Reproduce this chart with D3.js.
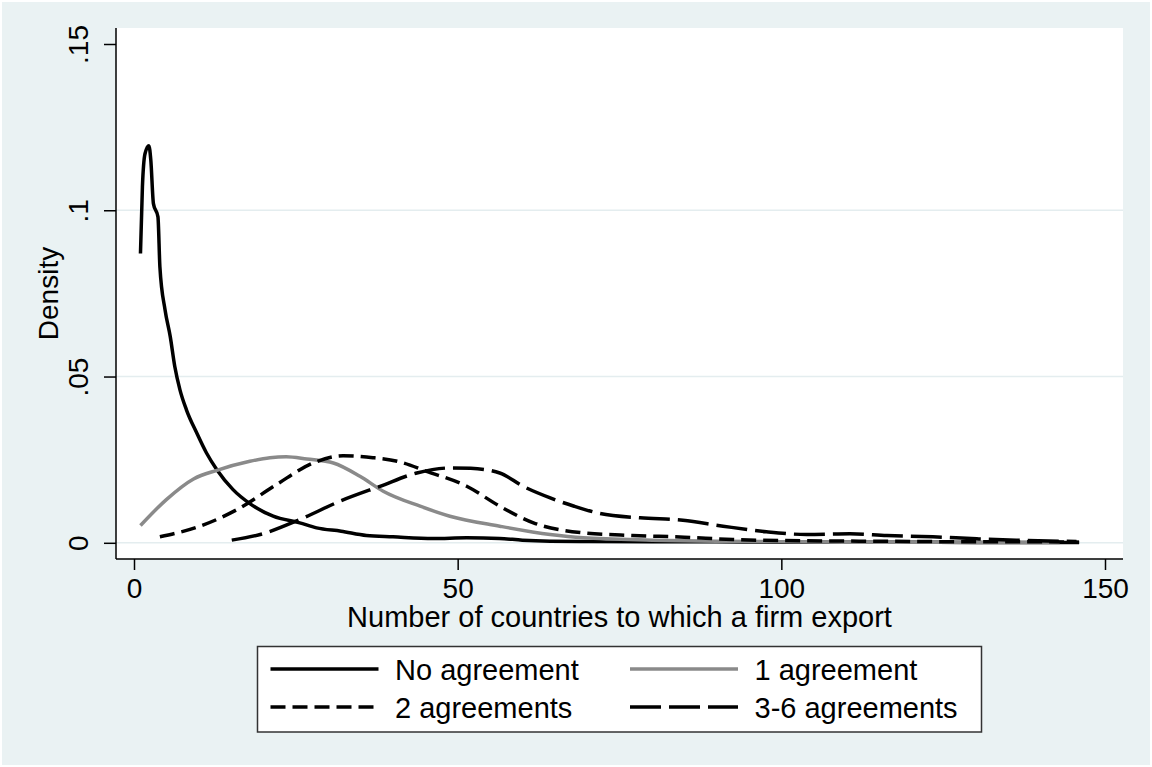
<!DOCTYPE html>
<html>
<head>
<meta charset="utf-8">
<script src="https://cdn.jsdelivr.net/npm/d3@7"></script>
<style>
  body { margin: 0; background: #ffffff; }
  text { font-family: "Liberation Sans", Arial, sans-serif; fill: #000; }
</style>
</head>
<body>
<svg id="chart" width="1152" height="767"></svg>
<script>
// Kernel density estimates
const noAgreementX = [1.0, 1.3, 1.7, 2.3, 2.6, 3.0, 3.7, 4.0, 4.8, 5.6, 6.3, 7.1, 8.1, 9.7, 11.2, 12.8, 15.3, 17.9, 21.5, 25.6, 28.2, 32, 35.9, 40, 46.2, 51.4, 56.5, 60, 64.3, 70, 80, 90, 100, 110, 120, 130, 140, 146];
const noAgreementY = [0.087, 0.107, 0.117, 0.1194, 0.115, 0.102, 0.098, 0.083, 0.070, 0.062, 0.053, 0.046, 0.040, 0.033, 0.027, 0.022, 0.016, 0.0118, 0.008, 0.006, 0.0045, 0.0035, 0.0022, 0.0018, 0.0013, 0.0015, 0.0013, 0.0008, 0.0005, 0.0004, 0.0003, 0.0003, 0.0002, 0.0002, 0.0002, 0.0001, 0.0001, 0.0001];

const oneAgreementX = [1.0, 5.0, 9.2, 12.8, 17.9, 21, 23.5, 26.7, 30.8, 34.9, 38.5, 44.2, 48.8, 56.5, 64.3, 69.4, 80, 90, 100, 110, 120, 130, 143];
const oneAgreementY = [0.0052, 0.013, 0.0192, 0.0218, 0.0245, 0.0256, 0.0259, 0.0252, 0.024, 0.020, 0.0155, 0.011, 0.008, 0.005, 0.0025, 0.0015, 0.0008, 0.0005, 0.0003, 0.0002, 0.0002, 0.0001, 0.0001];

const twoAgreementsX = [4.0, 10.2, 16.4, 22.0, 27.7, 32.3, 36.9, 41.1, 45.2, 51.4, 56.5, 61.7, 69.4, 77, 85, 92.5, 103, 112, 120, 130, 140, 146];
const twoAgreementsY = [0.0018, 0.005, 0.0105, 0.0175, 0.024, 0.0262, 0.0256, 0.0243, 0.0215, 0.017, 0.011, 0.006, 0.003, 0.0022, 0.0017, 0.001, 0.0006, 0.0005, 0.0004, 0.0003, 0.0003, 0.0002];

const threeSixX = [15.1, 19.5, 25.6, 31.8, 38.0, 43.7, 48.8, 52, 56.5, 60.1, 64.3, 68, 72, 78.2, 84.8, 91, 97.7, 103.9, 110.6, 116.3, 123.4, 130.2, 136.3, 145.6];
const threeSixY = [0.0008, 0.0025, 0.007, 0.0125, 0.017, 0.021, 0.0225, 0.0224, 0.021, 0.017, 0.0135, 0.011, 0.0088, 0.0075, 0.0068, 0.005, 0.0033, 0.0025, 0.0027, 0.0022, 0.0018, 0.0012, 0.0008, 0.0004];

const xTicks = [0, 50, 100, 150];
const yTicks = [0, 0.05, 0.1, 0.15];
const yTickLabels = ["0", ".05", ".1", ".15"];

const seriesNames = ["No agreement", "1 agreement", "2 agreements", "3-6 agreements"];

const svg = d3.select("#chart");
const width = +svg.attr("width");
const height = +svg.attr("height");

// Plot region box
const plot = { left: 116, right: 1123, top: 28, bottom: 559 };
const fontSize = 29;

// Background (graph region)
svg.append("rect")
    .attr("x", 2).attr("y", 2)
    .attr("width", width - 4).attr("height", height - 4)
    .attr("fill", "#eaf2f3");

svg.append("rect")
    .attr("x", plot.left).attr("y", plot.top)
    .attr("width", plot.right - plot.left).attr("height", plot.bottom - plot.top)
    .attr("fill", "#ffffff");

// Scales
const x = d3.scaleLinear().domain([0, 150]).range([134, 1105]);
const y = d3.scaleLinear().domain([0, 0.15]).range([542.8, 44]);

// Gridlines (not at the top tick)
svg.append("g")
    .selectAll("line")
    .data(yTicks.filter(t => t < 0.15))
    .enter().append("line")
    .attr("x1", plot.left).attr("x2", plot.right)
    .attr("y1", d => y(d)).attr("y2", d => y(d))
    .attr("stroke", "#e4edef")
    .attr("stroke-width", 1.5);

// Series
const series = [
    { name: seriesNames[0], xs: noAgreementX, ys: noAgreementY, color: "#000", dash: null },
    { name: seriesNames[1], xs: oneAgreementX, ys: oneAgreementY, color: "#8a8a8a", dash: null },
    { name: seriesNames[2], xs: twoAgreementsX, ys: twoAgreementsY, color: "#000", dash: "15,7" },
    { name: seriesNames[3], xs: threeSixX, ys: threeSixY, color: "#000", dash: "31,8" }
];

const line = d3.line()
    .x(d => x(d[0]))
    .y(d => y(d[1]))
    .curve(d3.curveMonotoneX);

svg.append("g")
    .selectAll("path")
    .data(series)
    .enter().append("path")
    .attr("d", s => line(s.xs.map((v, i) => [v, s.ys[i]])))
    .attr("fill", "none")
    .attr("stroke", s => s.color)
    .attr("stroke-width", 3.5)
    .attr("stroke-dasharray", s => s.dash)
    .attr("stroke-linejoin", "round");

// Axis lines
svg.append("line")
    .attr("x1", plot.left).attr("x2", plot.left)
    .attr("y1", plot.top).attr("y2", plot.bottom)
    .attr("stroke", "#000").attr("stroke-width", 1.5);
svg.append("line")
    .attr("x1", plot.left).attr("x2", plot.right)
    .attr("y1", plot.bottom).attr("y2", plot.bottom)
    .attr("stroke", "#000").attr("stroke-width", 1.5);

// X axis
const xAxis = svg.append("g")
    .attr("transform", `translate(0, ${plot.bottom})`)
    .call(d3.axisBottom(x).tickValues(xTicks).tickSize(11).tickPadding(8).tickFormat(d3.format("d")));
xAxis.select(".domain").remove();
xAxis.selectAll("line").attr("stroke", "#000").attr("stroke-width", 1.5);
xAxis.selectAll("text")
    .attr("font-size", "28px")
    .attr("font-family", "Liberation Sans, Arial, sans-serif")
    .attr("fill", "#000");

// Y axis
const yAxis = svg.append("g")
    .attr("transform", `translate(${plot.left}, 0)`)
    .call(d3.axisLeft(y).tickValues(yTicks).tickSize(12).tickFormat((d, i) => yTickLabels[i]));
yAxis.select(".domain").remove();
yAxis.selectAll("line").attr("stroke", "#000").attr("stroke-width", 1.5);
yAxis.selectAll("text")
    .attr("x", null).attr("dy", null)
    .attr("transform", "translate(-28, 0) rotate(-90)")
    .attr("text-anchor", "middle")
    .attr("font-size", "28px")
    .attr("font-family", "Liberation Sans, Arial, sans-serif")
    .attr("fill", "#000");

// Axis titles
svg.append("text")
    .attr("x", (plot.left + plot.right) / 2)
    .attr("y", 627)
    .attr("text-anchor", "middle")
    .attr("font-size", fontSize + "px")
    .text("Number of countries to which a firm export");

svg.append("text")
    .attr("transform", `translate(58, ${(plot.top + plot.bottom) / 2}) rotate(-90)`)
    .attr("text-anchor", "middle")
    .attr("font-size", "28px")
    .text("Density");

// Legend
const legend = svg.append("g");
legend.append("rect")
    .attr("x", 257.5).attr("y", 646.5)
    .attr("width", 724).attr("height", 85.5)
    .attr("fill", "#fff")
    .attr("stroke", "#333")
    .attr("stroke-width", 1.5);

const legendCols = [270.5, 630];
const legendRows = [669, 707];
const items = legend.selectAll(".item")
    .data(series)
    .enter().append("g")
    .attr("class", "item")
    .attr("transform", (d, i) => `translate(${legendCols[i % 2]}, ${legendRows[Math.floor(i / 2)]})`);

items.append("line")
    .attr("x1", 0).attr("x2", 108)
    .attr("y1", 0).attr("y2", 0)
    .attr("stroke", d => d.color)
    .attr("stroke-width", 3.5)
    .attr("stroke-dasharray", d => d.dash);

items.append("text")
    .attr("x", 124.5)
    .attr("y", 10.5)
    .attr("font-size", fontSize + "px")
    .text(d => d.name);
</script>
</body>
</html>
